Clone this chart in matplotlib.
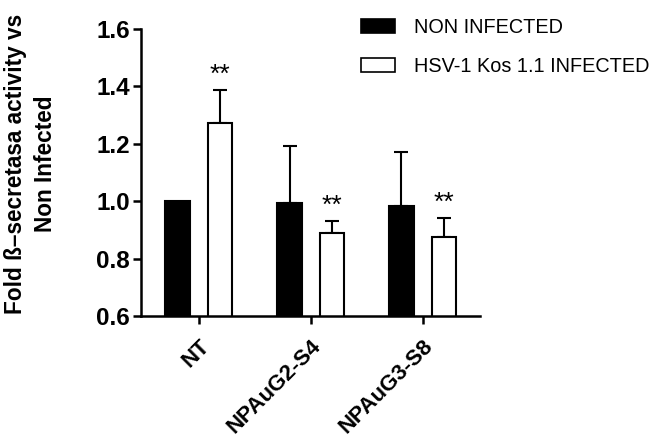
import matplotlib
matplotlib.use("Agg")
import matplotlib.pyplot as plt
import numpy as np
from matplotlib.patches import Patch

plt.rcParams['font.family'] = ['Liberation Sans', 'DejaVu Sans']

groups = ["NT", "NPAuG2-S4", "NPAuG3-S8"]
non_infected = [1.0, 0.994, 0.984]
non_infected_err = [0.0, 0.198, 0.187]
infected = [1.273, 0.889, 0.874]
infected_err = [0.115, 0.042, 0.068]
stars = ["**", "**", "**"]

fig = plt.figure(figsize=(6.71, 4.41), dpi=100)
ax = fig.add_axes([0.210, 0.2834, 0.505, 0.6506])

x = np.arange(len(groups))
w = 0.22
off = 0.19

ax.bar(x - off, non_infected, w, color='black', edgecolor='black', linewidth=1.5, zorder=2)
ax.bar(x + off, infected, w, color='white', edgecolor='black', linewidth=1.5, zorder=2)

# one-sided (upper) error bars
for xs, vals, errs in [(x - off, non_infected, non_infected_err), (x + off, infected, infected_err)]:
    for xi, v, e in zip(xs, vals, errs):
        if e > 0:
            ax.errorbar(xi, v, yerr=[[0], [e]], fmt='none', ecolor='black',
                        elinewidth=1.5, capsize=4.7, capthick=1.5, zorder=1)

for xi, v, e, s in zip(x + off, infected, infected_err, stars):
    ax.text(xi, v + e + 0.012, s, ha='center', va='bottom', fontsize=19)

ax.set_ylim(0.6, 1.6)
ax.set_xlim(-0.518, 2.51)
ax.set_yticks([0.6, 0.8, 1.0, 1.2, 1.4, 1.6])
ax.set_yticklabels(["0.6", "0.8", "1.0", "1.2", "1.4", "1.6"])
ax.set_xticks(x)
ax.set_xticklabels(groups, rotation=45, ha='right', rotation_mode='anchor')

for lab in ax.get_yticklabels():
    lab.set_fontweight('bold')
    lab.set_fontsize(17.5)
for lab in ax.get_xticklabels():
    lab.set_fontweight('bold')
    lab.set_fontsize(16)

ax.spines['top'].set_visible(False)
ax.spines['right'].set_visible(False)
ax.spines['left'].set_linewidth(1.8)
ax.spines['bottom'].set_linewidth(1.8)
ax.tick_params(axis='both', direction='out', width=1.8, length=6, pad=2)
ax.tick_params(axis='x', pad=8)

fig.text(0.045, 0.628, "Fold ß\u2013secretasa activity vs\nNon Infected", rotation=90,
         ha='center', va='center', multialignment='center', fontsize=16.3, fontweight='bold',
         linespacing=1.4)

handles = [Patch(facecolor='black', edgecolor='black', linewidth=1.2),
           Patch(facecolor='white', edgecolor='black', linewidth=1.2)]
fig.legend(handles, ["NON INFECTED", "HSV-1 Kos 1.1 INFECTED"], loc='upper left',
           bbox_to_anchor=(0.512, 1.0), frameon=False, fontsize=14.3,
           handlelength=1.7, handleheight=0.75, handletextpad=0.95, labelspacing=1.0)

fig.savefig("out.png", dpi=100)
